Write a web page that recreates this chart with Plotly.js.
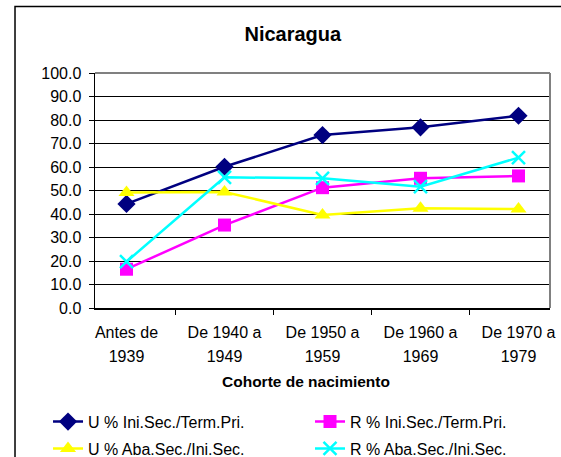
<!DOCTYPE html>
<html>
<head>
<meta charset="utf-8">
<script src="https://cdn.plot.ly/plotly-3.0.1.min.js"></script>
<style>
  html, body { margin: 0; padding: 0; background: #fff; }
  #chart { width: 561px; height: 457px; }
</style>
</head>
<body>
<div id="chart"></div>
<script>
// cohortes de nacimiento
var cohortes = ['Antes de<br>1939', 'De 1940 a<br>1949', 'De 1950 a<br>1959', 'De 1960 a<br>1969', 'De 1970 a<br>1979'];

// series (%)
var uIniSec = [44.3, 60.1, 73.6, 76.9, 81.8];
var rIniSec = [16.5, 35.3, 51.2, 55.2, 56.2];
var uAbaSec = [49.2, 49.4, 39.6, 42.4, 42.1];
var rAbaSec = [19.7, 55.6, 55.2, 51.6, 64.0];

var fuente = 'Liberation Sans, Arial, sans-serif';

// etiquetas de dos lineas con interlineado amplio
var etiquetas = cohortes.map(function(c) {
    return c.split('<br>').map(function(s) {
        return '<span style="font-size:16px">' + s + '</span>';
    }).join('<br>');
});

function serie(nombre, valores, color, simbolo, tam, leyenda) {
    var t = {
        x: cohortes,
        y: valores,
        name: nombre,
        type: 'scatter',
        mode: 'lines+markers',
        legend: leyenda,
        legendgroup: nombre,
        line: {color: color, width: 2.5},
        marker: {symbol: simbolo, size: tam, color: color}
    };
    if (simbolo === 'x-thin') {
        t.marker.line = {color: color, width: 2.5};
    }
    return t;
}

var data = [
    serie('U % Ini.Sec./Term.Pri.', uIniSec, '#000080', 'diamond', 14, 'legend'),
    serie('R % Ini.Sec./Term.Pri.', rIniSec, '#FF00FF', 'square', 13, 'legend2'),
    serie('U % Aba.Sec./Ini.Sec.', uAbaSec, '#FFFF00', 'triangle-up', 14, 'legend'),
    serie('R % Aba.Sec./Ini.Sec.', rAbaSec, '#00FFFF', 'x-thin', 13, 'legend2')
];

var layout = {
    width: 561,
    height: 457,
    margin: {l: 95, r: 11, t: 73, b: 149, autoexpand: false},
    paper_bgcolor: '#fff',
    plot_bgcolor: '#fff',
    font: {family: fuente, size: 15, color: '#000'},
    showlegend: true,
    title: {
        text: '<b>Nicaragua</b>',
        font: {family: fuente, size: 20, color: '#000'},
        xref: 'container', yref: 'container',
        x: 0.522, xanchor: 'center',
        y: 0.925, yanchor: 'middle'
    },
    xaxis: {
        type: 'category',
        tickson: 'boundaries',
        tickvals: cohortes,
        ticktext: etiquetas,
        ticks: 'outside',
        ticklen: 5,
        tickcolor: '#000',
        ticklabelstandoff: 6,
        showline: true,
        linecolor: '#000',
        linewidth: 1.5,
        showgrid: false,
        zeroline: false,
        tickfont: {family: fuente, size: 18.5, color: '#000'},
        fixedrange: true
    },
    yaxis: {
        range: [0, 100],
        dtick: 10,
        tickformat: '.1f',
        ticks: 'outside',
        ticklen: 5,
        tickcolor: '#000',
        ticklabelstandoff: 4,
        showline: true,
        linecolor: '#000',
        linewidth: 1.5,
        showgrid: true,
        gridcolor: '#000',
        gridwidth: 1,
        zeroline: false,
        tickfont: {family: fuente, size: 16, color: '#000'},
        fixedrange: true
    },
    legend: {
        orientation: 'v',
        xref: 'container', yref: 'container',
        x: 0.0856, xanchor: 'left',
        y: 0.1144, yanchor: 'top',
        bgcolor: 'rgba(0,0,0,0)',
        tracegroupgap: 3,
        font: {family: fuente, size: 16, color: '#000'}
    },
    legend2: {
        orientation: 'v',
        xref: 'container', yref: 'container',
        x: 0.5526, xanchor: 'left',
        y: 0.1144, yanchor: 'top',
        bgcolor: 'rgba(0,0,0,0)',
        tracegroupgap: 3,
        font: {family: fuente, size: 16, color: '#000'}
    },
    annotations: [{
        text: '<b>Cohorte de nacimiento</b>',
        xref: 'paper', yref: 'paper',
        x: 0.4637, y: -0.3136,
        xanchor: 'center', yanchor: 'middle',
        showarrow: false,
        font: {family: fuente, size: 15.5, color: '#000'}
    }],
    shapes: [
        // marco del grafico
        {type: 'rect', xref: 'paper', yref: 'paper',
         x0: -0.1758, x1: 1.2, y0: -1.2, y1: 1.283,
         line: {color: '#000', width: 1.5}, layer: 'below'},
        // borde gris del area de trazado
        {type: 'line', xref: 'paper', yref: 'paper',
         x0: 0, x1: 1, y0: 1, y1: 1,
         line: {color: '#808080', width: 2}, layer: 'above'},
        {type: 'line', xref: 'paper', yref: 'paper',
         x0: 1, x1: 1, y0: 0, y1: 1,
         line: {color: '#808080', width: 2}, layer: 'above'}
    ]
};

Plotly.newPlot('chart', data, layout, {displayModeBar: false, staticPlot: true});
</script>
</body>
</html>
